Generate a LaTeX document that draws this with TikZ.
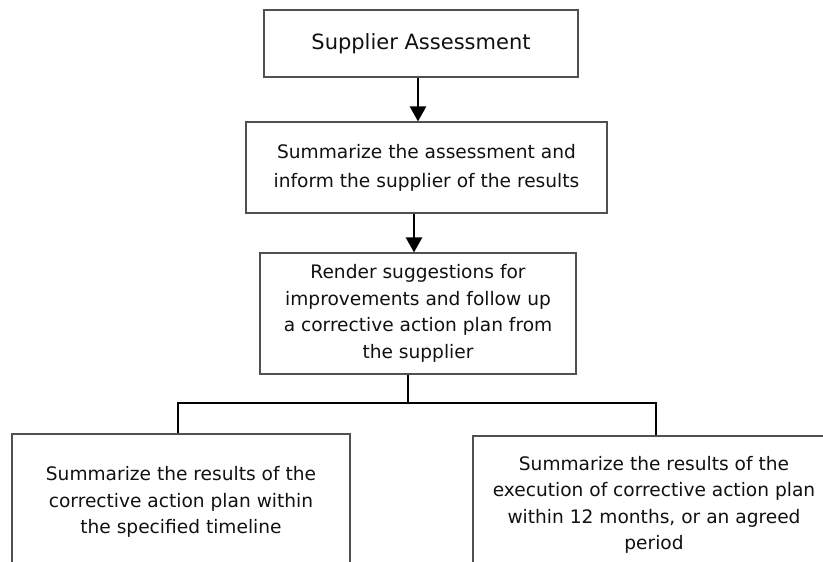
\documentclass[tikz,border=0pt]{standalone}
\usepackage{fontspec}
\setmainfont{DejaVu Sans}
\usetikzlibrary{arrows.meta}
\definecolor{bord}{HTML}{505050}
\definecolor{txt}{HTML}{111111}
\tikzset{
  box/.style={draw=bord, line width=1.1pt, fill=white, align=center, inner sep=0pt, text=txt,
    font=\fontsize{18.6}{26.5}\selectfont},
  conn/.style={draw=black, line width=2.4pt},
  arr/.style={conn, -{Triangle[length=15pt,width=16pt]}},
}
\begin{document}
\begin{tikzpicture}[x=1pt,y=-1pt]
\useasboundingbox (0,0) rectangle (823,562);
\clip (0,0) rectangle (823,562);
\node[box, minimum width=314pt, minimum height=67pt, font=\fontsize{21}{26}\selectfont] (b1) at (421,43.5) {Supplier Assessment};
\node[box, minimum width=361pt, minimum height=91pt, font=\fontsize{18.6}{29}\selectfont] (b2) at (426.5,167.5) {Summarize the assessment and\\inform the supplier of the results};
\node[box, minimum width=316pt, minimum height=121pt] (b3) at (418,313.5) {Render suggestions for\\improvements and follow up\\a corrective action plan from\\the supplier};
\node[box, minimum width=338pt, minimum height=136pt] (b4) at (181,502) {Summarize the results of the\\corrective action plan within\\the specified timeline};
\node[box, minimum width=362pt, minimum height=138pt] (b5) at (654,505) {Summarize the results of the\\execution of corrective action plan\\within 12 months, or an agreed\\period};
\coordinate (a1) at (418,0);
\coordinate (a2) at (414,0);
\coordinate (jn) at (408,403);
\coordinate (jl) at (178,403);
\coordinate (jr) at (656,403);
\draw[arr] (a1 |- b1.south) -- (a1 |- b2.north);
\draw[arr] (a2 |- b2.south) -- (a2 |- b3.north);
\draw[conn] (jn |- b3.south) -- (jn);
\draw[conn, line cap=rect] (jl) -- (jr);
\draw[conn] (jl) -- (jl |- b4.north);
\draw[conn] (jr) -- (jr |- b5.north);
\end{tikzpicture}
\end{document}
